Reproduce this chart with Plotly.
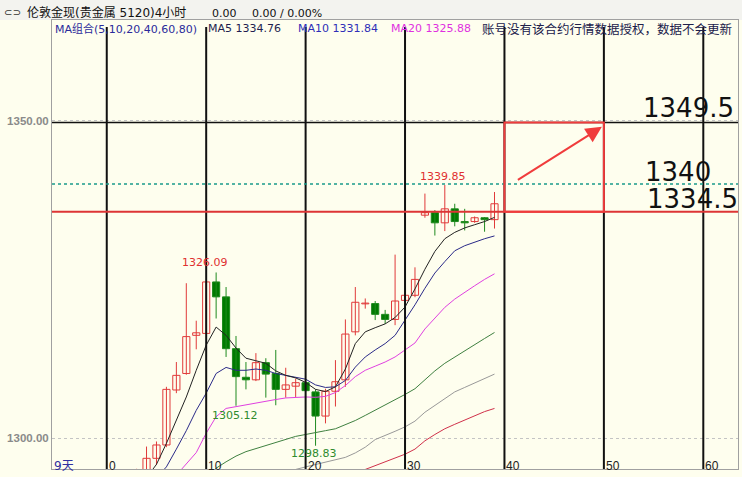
import plotly.graph_objects as go

# ---------------- data ----------------
candle_idx = list(range(2, 40))
opens = [1293.6, 1293.8, 1294.3, 1296.85, 1298.95, 1307.6, 1310.2, 1316.2, 1316.5,
         1324.6, 1322.25, 1314.1, 1309.6, 1309.2, 1311.9, 1310.2, 1307.7, 1308.2,
         1308.75, 1307.3, 1303.5, 1307.4, 1309.2, 1316.75, 1321.15, 1321.2, 1319.5,
         1318.7, 1321.7, 1322.5, 1335.1, 1335.5, 1333.9, 1336.1, 1334.1, 1334.1,
         1334.7, 1334.4]
highs = [1295.0, 1295.2, 1298.7, 1299.5, 1308.1, 1312.0, 1324.4, 1318.5, 1324.6,
         1326.09, 1323.8, 1316.1, 1312.0, 1313.4, 1312.6, 1313.9, 1311.1, 1309.4,
         1309.2, 1307.7, 1307.8, 1312.3, 1318.7, 1323.8, 1322.0, 1321.6, 1320.2,
         1328.9, 1322.8, 1326.9, 1338.5, 1335.9, 1339.85, 1336.9, 1336.1, 1334.9,
         1334.8, 1338.75]
lows = [1293.0, 1293.4, 1294.0, 1295.8, 1298.6, 1307.1, 1310.0, 1314.0, 1316.4,
        1318.85, 1312.8, 1305.12, 1307.7, 1309.0, 1306.4, 1305.2, 1306.4, 1306.5,
        1307.3, 1298.83, 1302.35, 1305.0, 1308.1, 1316.2, 1320.4, 1318.6, 1318.0,
        1317.8, 1321.4, 1322.2, 1334.7, 1331.9, 1332.6, 1333.35, 1332.7, 1333.9,
        1332.5, 1333.0]
closes = [1294.1, 1294.5, 1296.85, 1298.95, 1307.7, 1309.9, 1316.0, 1316.6, 1324.6,
          1322.25, 1314.1, 1309.7, 1309.2, 1311.9, 1310.1, 1307.7, 1308.4, 1308.75,
          1307.5, 1303.5, 1307.4, 1308.9, 1316.4, 1321.4, 1321.25, 1319.5, 1318.7,
          1321.6, 1322.5, 1325.0, 1335.5, 1333.9, 1336.1, 1334.1, 1333.9, 1334.7,
          1334.4, 1336.9]

ma5_start = 4
ma5 = [1293.8, 1295.9, 1299.2, 1302.9, 1306.5, 1310.7, 1314.65, 1317.5, 1316.2,
       1314.2, 1312.6, 1312.2, 1311.8, 1310.6, 1309.9, 1309.5, 1308.8, 1307.7,
       1307.35, 1308.1, 1310.9, 1314.9, 1316.75, 1317.4, 1318.0, 1319.0, 1320.65,
       1323.5, 1326.6, 1329.4, 1331.4, 1332.4, 1333.1, 1333.6, 1334.1, 1334.76]
ma10_start = 5
ma10 = [1293.8, 1295.5, 1298.3, 1301.2, 1304.4, 1307.1, 1310.2, 1311.15, 1310.7,
        1310.7, 1310.9, 1310.7, 1310.2, 1309.9, 1309.7, 1309.3, 1308.4, 1308.0,
        1308.1, 1309.1, 1311.2, 1312.8, 1313.9, 1314.9, 1316.2, 1318.5, 1321.0,
        1323.6, 1326.0, 1327.8, 1329.5, 1330.3, 1330.9, 1331.4, 1331.84]
ma20_start = 7
ma20 = [1294.2, 1295.9, 1297.75, 1300.8, 1303.4, 1304.7, 1305.0, 1305.3, 1305.6,
        1305.9, 1306.1, 1306.35, 1306.45, 1306.5, 1306.45, 1306.6, 1307.2, 1308.3,
        1309.7, 1310.7, 1311.35, 1312.0, 1312.8, 1313.9, 1315.0, 1317.2, 1318.9,
        1320.6, 1321.9, 1323.0, 1324.0, 1325.0, 1325.88]
ma40_start = 10
ma40 = [1294.0, 1295.3, 1296.3, 1297.2, 1297.9, 1298.4, 1298.9, 1299.4, 1299.9,
        1300.3, 1300.6, 1300.85, 1301.2, 1301.5, 1302.1, 1302.8, 1303.6, 1304.4,
        1305.3, 1306.0, 1306.9, 1307.8, 1309.2, 1310.6, 1311.8, 1312.8, 1313.7,
        1314.7, 1315.7, 1316.65]
ma60_start = 17
ma60 = [1294.2, 1294.7, 1295.1, 1295.5, 1295.9, 1296.3, 1296.7, 1297.0, 1297.7,
        1298.6, 1299.8, 1300.4, 1301.1, 1301.8, 1302.7, 1304.1, 1305.2, 1306.3,
        1307.3, 1308.0, 1308.7, 1309.4, 1310.1]
ma80_start = 25
ma80 = [1294.5, 1295.1, 1295.7, 1296.3, 1297.0, 1297.5, 1298.3, 1299.6, 1300.6,
        1301.5, 1302.2, 1302.9, 1303.6, 1304.2, 1304.7]

x_ticks = [0, 10, 20, 30, 40, 50, 60]
x_tick_labels = ["0", "10", "20", "30", "40", "50", "60"]
y_ticks = [1300, 1350]
y_tick_labels = ["1300.00", "1350.00"]

level_black = 1349.7
level_teal = 1340.0
level_red = 1335.65
box_x = [40, 50]
arrow_tail = [41.2, 1340.5]
arrow_head = [49.8, 1349.0]
big_labels = ["1349.5", "1340", "1334.5"]

ma_names = ["MA5", "MA10", "MA20"]

# ---------------- geometry helpers ----------------
W, H = 742, 477
L, R, T, B = 52, 4, 20, 8
PW, PH = W - L - R, H - T - B


def px(xp):
    return (xp - L) / PW


def py(yp):
    return (H - B - yp) / PH


BG = "#fefeee"
UP = "#e03a3a"
DOWN_FILL = "#007a00"
DOWN_LINE = "#1f8a1f"

fig = go.Figure()

# ---- candles: wicks first, then bodies ----
for is_up, col in [(True, UP), (False, DOWN_LINE)]:
    wx, wy = [], []
    for i, o, h, l, c in zip(candle_idx, opens, highs, lows, closes):
        if (c >= o) == is_up:
            wx += [i, i, None]
            wy += [l, h, None]
    fig.add_trace(go.Scatter(x=wx, y=wy, mode="lines", line=dict(color=col, width=1),
                             hoverinfo="skip", showlegend=False))

for is_up, fill, col in [(True, BG, UP), (False, DOWN_FILL, DOWN_LINE)]:
    bx, bb, bh = [], [], []
    for i, o, c in zip(candle_idx, opens, closes):
        if (c >= o) == is_up:
            bx.append(i)
            bb.append(min(o, c))
            bh.append(max(abs(c - o), 0.12))
    fig.add_trace(go.Bar(x=bx, y=bh, base=bb, width=0.72,
                         marker=dict(color=fill, line=dict(color=col, width=1)),
                         hoverinfo="skip", showlegend=False))

ma_series = [
    (ma80_start, ma80, "#d0304a"),
    (ma60_start, ma60, "#999999"),
    (ma40_start, ma40, "#3f8040"),
    (ma20_start, ma20, "#e040e0"),
    (ma10_start, ma10, "#2a2a88"),
    (ma5_start, ma5, "#222222"),
]
for start, vals, col in ma_series:
    fig.add_trace(go.Scatter(
        x=list(range(start, start + len(vals))), y=vals, mode="lines",
        line=dict(color=col, width=1), hoverinfo="skip", showlegend=False,
    ))

shapes = []
# header bar
shapes.append(dict(type="rect", xref="paper", yref="paper", x0=px(0), x1=px(W),
                   y0=1, y1=py(0), fillcolor="#f3f3ef", line=dict(width=0),
                   layer="below"))
# vertical index lines
for t in x_ticks:
    shapes.append(dict(type="line", xref="x", yref="paper", x0=t, x1=t,
                       y0=0, y1=py(27), line=dict(color="#111111", width=2)))
# horizontal user lines
shapes.append(dict(type="line", xref="paper", yref="y", x0=0, x1=1,
                   y0=level_black, y1=level_black, line=dict(color="#111111", width=1.5)))
shapes.append(dict(type="line", xref="paper", yref="y", x0=0, x1=1,
                   y0=level_teal, y1=level_teal,
                   line=dict(color="#1a9a8a", width=1.5, dash="dot")))
shapes.append(dict(type="line", xref="paper", yref="y", x0=0, x1=1,
                   y0=level_red, y1=level_red, line=dict(color="#dd3535", width=2)))
# red box
shapes.append(dict(type="rect", xref="x", yref="y", x0=box_x[0], x1=box_x[1],
                   y0=level_red, y1=level_black, line=dict(color="#f03c3c", width=2)))

ann = []
LAT = "DejaVu Sans, Noto Sans CJK SC"
CJK = "Noto Sans CJK SC"


def txt(text, xp, yp, size, color, family=LAT, anchor="left"):
    ann.append(dict(text=text, xref="paper", yref="paper", x=px(xp), y=py(yp),
                    xanchor=anchor, yanchor="middle", showarrow=False,
                    font=dict(size=size, color=color, family=family)))


# header row 1
txt("⊂⊃", 2, 12, 10, "#333333")
txt("伦敦金现(贵金属 5120)4小时", 25, 12.5, 12, "#111111", family="DejaVu Sans, " + CJK)
txt("0.00", 210, 13, 11, "#111111")
txt("0.00 / 0.00%", 250, 13, 11, "#111111")
# header row 2
txt("MA组合(5,10,20,40,60,80)", 53, 28.5, 11, "#2b2b9b", family="DejaVu Sans, " + CJK)
txt(f"{ma_names[0]} {ma5[-1]:.2f}", 206, 28.5, 11, "#1e1e50")
txt(f"{ma_names[1]} {ma10[-1]:.2f}", 296, 28.5, 11, "#2e2eb8")
txt(f"{ma_names[2]} {ma20[-1]:.2f}", 389, 28.5, 11, "#e030e0")
txt("账号没有该合约行情数据授权，数据不会更新", 480, 28.5, 12.5, "#20204a", family=CJK)
# bottom labels
txt("9天", 52, 465.5, 12, "#3030a0", family="DejaVu Sans, " + CJK)
for t, lab in zip(x_ticks, x_tick_labels):
    ann.append(dict(text=lab, xref="x", yref="paper", x=t, y=py(466),
                    xanchor="left", yanchor="middle", xshift=0, showarrow=False,
                    font=dict(size=12, color="#222222", family="Liberation Sans")))


# high / low labels tied to candles
def candle_label(i, use_high, color, dx, dy):
    k = candle_idx.index(i)
    v = highs[k] if use_high else lows[k]
    ann.append(dict(text=f"{v:.2f}", xref="x", yref="y", x=i, y=v,
                    xshift=dx, yshift=dy, xanchor="center", yanchor="middle",
                    showarrow=False, font=dict(size=11, color=color, family="DejaVu Sans")))


candle_label(11, True, "#e03030", -11.5, 9.5)
candle_label(13, False, "#2e8b2e", -1.5, -9.5)
candle_label(21, False, "#2e8b2e", -1.5, -8.0)
candle_label(34, True, "#e03030", -1.5, 9)

# big user labels
big_pos = [(643, 108.3), (645, 172.5), (647, 198.7)]
for lab, (xp, yp) in zip(big_labels, big_pos):
    ann.append(dict(text=lab, xref="paper", yref="paper", x=px(xp - 2), y=py(yp),
                    xanchor="left", yanchor="middle", showarrow=False,
                    font=dict(size=26, color="#111111", family="DejaVu Sans")))

# arrow
ann.append(dict(text="", xref="x", yref="y", x=arrow_head[0], y=arrow_head[1],
                axref="x", ayref="y", ax=arrow_tail[0], ay=arrow_tail[1],
                showarrow=True, arrowhead=2, arrowsize=1.6, arrowwidth=2,
                arrowcolor="#f03c3c"))

x_lo = -5.508
x_hi = 63.49
y_lo = 1295.17
y_hi = 1365.81

fig.update_layout(
    width=W, height=H, margin=dict(l=L, r=R, t=T, b=B),
    paper_bgcolor=BG, plot_bgcolor=BG, showlegend=False, barmode="overlay",
    shapes=shapes, annotations=ann, hovermode=False,
    xaxis=dict(range=[x_lo, x_hi], showgrid=False, zeroline=False,
               showticklabels=False, ticks="", showline=True, mirror=True,
               linecolor="#a0a0a0", linewidth=1, fixedrange=True),
    yaxis=dict(range=[y_lo, y_hi], tickvals=y_ticks, ticktext=y_tick_labels,
               showgrid=True, gridcolor="#c4c4c4", griddash="dot", gridwidth=1,
               zeroline=False, ticks="", showline=True, mirror=True,
               linecolor="#a0a0a0", linewidth=1, fixedrange=True,
               tickfont=dict(family="Liberation Sans", size=11.5, color="#8a8a8a",
                             weight="bold")),
)

fig.write_html("out.html", config={"displayModeBar": False},
               post_script="document.body.style.margin='0px';"
                           "document.body.style.background='" + BG + "';")
